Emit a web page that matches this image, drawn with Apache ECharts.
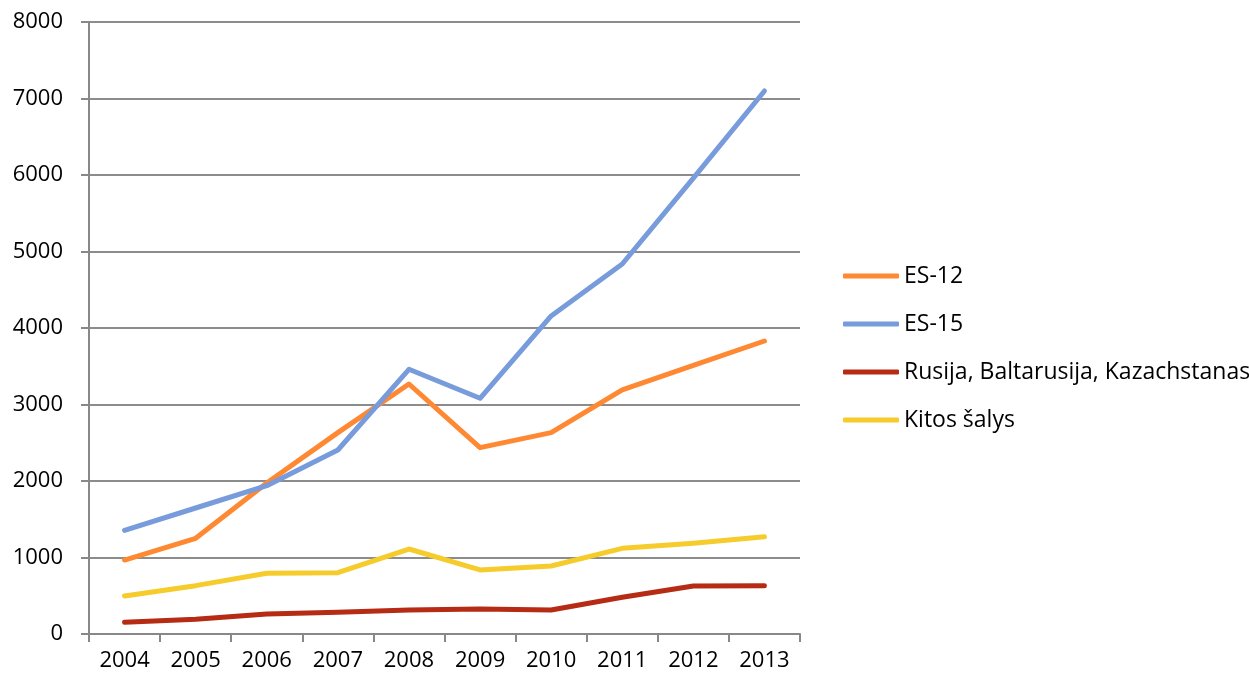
<!DOCTYPE html>
<html>
<head>
<meta charset="utf-8">
<script src="https://cdn.jsdelivr.net/npm/echarts@6/dist/echarts.min.js"></script>
<style>html,body{margin:0;padding:0;background:#fff}#c{width:1249px;height:679px}</style>
</head>
<body>
<div id="c"></div>
<script>
const years = ['2004','2005','2006','2007','2008','2009','2010','2011','2012','2013'];
const es12 = [967, 1251, 1974, 2632, 3268, 2436, 2632, 3190, 3510, 3830];
const es15 = [1355, 1647, 1939, 2405, 3460, 3081, 4157, 4837, 5960, 7098];
const rbk = [153, 192, 261, 283, 314, 327, 314, 480, 627, 630];
const kitos = [497, 632, 793, 801, 1111, 837, 889, 1120, 1186, 1272];
const names = ['ES-12', 'ES-15', 'Rusija, Baltarusija, Kazachstanas', 'Kitos šalys'];
const colors = ['#FF8833', '#779BDB', '#B62B14', '#F5CC2C'];
const yTicks = [0, 1000, 2000, 3000, 4000, 5000, 6000, 7000, 8000];

const font = '"Open Sans", Lato, sans-serif';
const chart = echarts.init(document.getElementById('c'));
const data = [es12, es15, rbk, kitos];
chart.setOption({
  animation: false,
  color: colors,
  grid: {left: 89, right: 449, top: 22, bottom: 45, containLabel: false},
  legend: {
    orient: 'vertical', left: 838, top: 256, itemGap: 18,
    itemWidth: 56, itemHeight: 5, icon: 'roundRect',
    textStyle: {fontFamily: font, fontSize: 23, color: '#000', lineHeight: 30},
    data: names
  },
  xAxis: {
    type: 'category', data: years, boundaryGap: true,
    axisLine: {lineStyle: {color: '#888', width: 2}},
    axisTick: {show: true, length: 8, lineStyle: {color: '#888', width: 2}},
    axisLabel: {fontFamily: font, fontSize: 22, color: '#000', margin: 16}
  },
  yAxis: {
    type: 'value', min: yTicks[0], max: yTicks[yTicks.length-1], interval: 1000,
    axisLine: {show: true, lineStyle: {color: '#888', width: 2}},
    axisTick: {show: true, length: 8, lineStyle: {color: '#888', width: 2}},
    splitLine: {lineStyle: {color: '#8c8c8c', width: 2}},
    axisLabel: {fontFamily: font, fontSize: 22, color: '#000', margin: 26,
      formatter: v => String(v)}
  },
  series: names.map((n, i) => ({
    name: n, type: 'line', data: data[i], symbol: 'none',
    lineStyle: {width: 5, color: colors[i], cap: 'round', join: 'round'},
    itemStyle: {color: colors[i]}
  }))
});
</script>
</body>
</html>
